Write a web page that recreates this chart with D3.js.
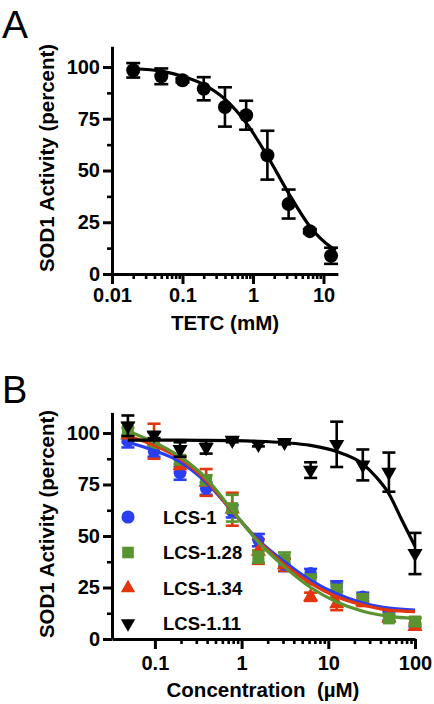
<!DOCTYPE html>
<html>
<head>
<meta charset="utf-8">
<script src="https://cdn.jsdelivr.net/npm/d3@7"></script>
<style>
  html, body { margin: 0; padding: 0; background: #fff; }
  svg { display: block; }
  text { font-family: "Liberation Sans", Arial, Helvetica, sans-serif; }
</style>
</head>
<body>
<div id="chart"></div>
<script>
// ---------- Panel A data (TETC) ----------
const tetcConc = [0.02, 0.05, 0.1, 0.2, 0.4, 0.8, 1.6, 3.2, 6.4, 12.8];
const tetcMean = [98.4, 95.5, 93.6, 89.5, 80.7, 76.7, 57.4, 33.8, 20.7, 8.8];
const tetcErr  = [3.5, 3.8, 1.0, 5.6, 9.5, 7.0, 11.8, 7.0, 1.0, 3.9];
const tetcFitConc = [0.017, 0.02, 0.05, 0.1, 0.2, 0.4, 0.8, 1.6, 3.2, 6.4, 12.8, 15];
const tetcFitVal  = [99.3, 99.2, 98, 95.5, 91.5, 84.5, 73, 57, 39, 23, 13, 11.5];

const xTicksA = [0.01, 0.1, 1, 10];
const xTickLabelsA = ["0.01", "0.1", "1", "10"];
const yTicks = [0, 25, 50, 75, 100];
const yMinorTicks = [12.5, 37.5, 62.5, 87.5];

// ---------- Panel B data (LCS compounds) ----------
const lcsConc = [0.0488, 0.0977, 0.195, 0.39, 0.78, 1.5625, 3.125, 6.25, 12.5, 25, 50, 100];
const seriesNames = ["LCS-1", "LCS-1.28", "LCS-1.34", "LCS-1.11"];
const lcs1Mean   = [96, 91, 80.5, 73, 62, 48, 36, 32, 25.5, 20.5, 11, 8];
const lcs1Err    = [3, 2.5, 3.2, 3, 3, 3, 3, 2, 2.5, 2, 2, 2];
const lcs128Mean = [101, 95, 87, 77, 63.5, 40, 38.5, 29, 24, 19.5, 10, 8.5];
const lcs128Err  = [4, 2, 2, 2.5, 6.5, 3, 3.5, 2, 3, 2, 1.5, 2];
const lcs134Mean = [99, 96, 84, 76, 63, 42.5, 36, 20.5, 17, 18, 10, 6];
const lcs134Err  = [3.5, 8.5, 3, 6.5, 8, 6, 3, 2, 3, 2, 1.5, 1.5];
const lcs111Mean = [103.5, 99, 92, 93, 96.5, 94.5, 95.5, 82, 94.5, 84.5, 81, 41.5];
const lcs111Err  = [5, 1.5, 3.5, 3, 1, 1, 1, 3.8, 11, 7.5, 9.5, 10];

const lcs1Fit   = [95.5, 91.5, 86, 76, 62, 48, 37.5, 28.5, 22, 17.5, 15, 14];
const lcs128Fit = [101, 95.5, 88.5, 78, 62.5, 47, 35, 25, 18, 13.5, 11, 10];
const lcs134Fit = [98.5, 94, 87.5, 77, 62, 47.5, 36, 27, 20.5, 16.5, 14, 13.3];
const lcs111FitConc = [0.0488, 0.0977, 0.195, 0.39, 0.78, 1.5625, 3.125, 6.25, 12.5, 25, 35, 50, 70, 100];
const lcs111Fit     = [96.5, 96.5, 96.5, 96.4, 96.3, 96, 95.3, 94, 91, 85, 79, 70.5, 58, 45];

const xTicksB = [0.1, 1, 10, 100];
const xTickLabelsB = ["0.1", "1", "10", "100"];

// ---------- Drawing ----------
const W = 434, H = 704;
const svg = d3.select("#chart").append("svg").attr("width", W).attr("height", H);

const colors = { blue: "#2a3ef2", green: "#5a9430", red: "#e2360f", black: "#000" };

function minorLog(lo, hi) {
  const out = [];
  for (let e = Math.floor(Math.log10(lo)); e <= Math.ceil(Math.log10(hi)); e++) {
    for (let m = 2; m <= 9; m++) {
      const v = m * Math.pow(10, e);
      if (v > lo * 1.0001 && v < hi * 0.9999) out.push(v);
    }
  }
  return out;
}

function drawAxes(g, x, y, xTicks, xLabels, minorLo, labelPad, title, titleY, yTitleCY) {
  const x0 = y.range()[0];
  const yAx = g.append("g").attr("transform", `translate(${x.range()[0]},0)`)
    .call(d3.axisLeft(y).tickValues(yTicks).tickSize(9).tickSizeOuter(0).tickPadding(3));
  const yMin = g.append("g").attr("transform", `translate(${x.range()[0]},0)`)
    .call(d3.axisLeft(y).tickValues(yMinorTicks).tickSize(5).tickSizeOuter(0).tickFormat(""));
  yMin.select(".domain").remove();
  const xAx = g.append("g").attr("transform", `translate(0,${x0})`)
    .call(d3.axisBottom(x).tickValues(xTicks).tickSize(10).tickSizeOuter(0).tickPadding(labelPad)
      .tickFormat((d, i) => xLabels[i]));
  const xMin = g.append("g").attr("transform", `translate(0,${x0})`)
    .call(d3.axisBottom(x).tickValues(minorLog(minorLo, x.domain()[1])).tickSize(5).tickSizeOuter(0).tickFormat(""));
  xMin.select(".domain").remove();

  [yAx, xAx].forEach(a => {
    a.select(".domain").attr("stroke", "#000").attr("stroke-width", 3);
    a.selectAll(".tick line").attr("stroke", "#000").attr("stroke-width", 3);
    a.selectAll(".tick text").attr("fill", "#000").style("font-size", "20px").style("font-weight", "bold");
  });
  [yMin, xMin].forEach(a => a.selectAll(".tick line").attr("stroke", "#000").attr("stroke-width", 2.6));

  g.append("text").attr("x", title.x).attr("y", titleY).attr("text-anchor", "middle")
    .style("font-size", "20.5px").style("font-weight", "bold").style("white-space", "pre")
    .attr("xml:space", "preserve").text(title.text);
  g.append("text").attr("transform", `translate(54,${yTitleCY}) rotate(-90)`)
    .attr("text-anchor", "middle").style("font-size", "20.5px").style("font-weight", "bold")
    .text("SOD1 Activity (percent)");
}

function errorBars(g, x, y, xs, means, errs, color, capW) {
  const eg = g.append("g").attr("stroke", color).attr("stroke-width", 2.6).attr("fill", "none");
  xs.forEach((c, i) => {
    const px = x(c), top = y(means[i] + errs[i]), bot = y(means[i] - errs[i]);
    eg.append("line").attr("x1", px).attr("x2", px).attr("y1", top).attr("y2", bot);
    eg.append("line").attr("x1", px - capW / 2).attr("x2", px + capW / 2).attr("y1", top).attr("y2", top);
    eg.append("line").attr("x1", px - capW / 2).attr("x2", px + capW / 2).attr("y1", bot).attr("y2", bot);
  });
}

function fitLine(g, x, y, xs, vals, color) {
  const line = d3.line().x(d => x(d[0])).y(d => y(d[1])).curve(d3.curveMonotoneX);
  g.append("path").datum(xs.map((c, i) => [c, vals[i]]))
    .attr("d", line).attr("fill", "none").attr("stroke", color).attr("stroke-width", 3.2)
    .attr("stroke-linejoin", "round");
}

function markers(g, x, y, xs, vals, type, size, color, rot) {
  const sym = d3.symbol().type(type).size(size);
  g.append("g").selectAll("path").data(xs.map((c, i) => [c, vals[i]])).join("path")
    .attr("d", sym)
    .attr("transform", d => `translate(${x(d[0])},${y(d[1])})${rot ? " rotate(180)" : ""}`)
    .attr("fill", color);
}

// ----- Panel A -----
const xA = d3.scaleLog().domain([0.01, 16]).range([112, 112 + Math.log10(1600) * 70.5]);
const yA = d3.scaleLinear().domain([0, 110]).range([274, 274 - 110 * 2.07]);
const gA = svg.append("g");
gA.append("text").attr("x", 2).attr("y", 38).style("font-size", "39px").text("A");
drawAxes(gA, xA, yA, xTicksA, xTickLabelsA, 0.01, 4, { text: "TETC (mM)", x: 225 }, 330, 158);
fitLine(gA, xA, yA, tetcFitConc, tetcFitVal, "#000");
errorBars(gA, xA, yA, tetcConc, tetcMean, tetcErr, "#000", 14);
markers(gA, xA, yA, tetcConc, tetcMean, d3.symbolCircle, Math.PI * 7 * 7, "#000", false);

// ----- Panel B -----
const xB = d3.scaleLog().domain([0.032, 100]).range([112, 415]);
const yB = d3.scaleLinear().domain([0, 110]).range([639, 639 - 110 * 2.06]);
const gB = svg.append("g");
gB.append("text").attr("x", 2).attr("y", 403).style("font-size", "38px").text("B");
drawAxes(gB, xB, yB, xTicksB, xTickLabelsB, 0.1, 7, { text: "Concentration  (µM)", x: 263 }, 697, 524);

const seriesB = [
  { mean: lcs1Mean, err: lcs1Err, fit: lcs1Fit, color: colors.blue, type: d3.symbolCircle, size: 120, rot: false },
  { mean: lcs134Mean, err: lcs134Err, fit: lcs134Fit, color: colors.red, type: d3.symbolTriangle, size: 100, rot: false },
  { mean: lcs128Mean, err: lcs128Err, fit: lcs128Fit, color: colors.green, type: d3.symbolSquare, size: 144, rot: false }
];
seriesB.forEach(s => errorBars(gB, xB, yB, lcsConc, s.mean, s.err, s.color, 13));
seriesB.forEach(s => markers(gB, xB, yB, lcsConc, s.mean, s.type, s.size, s.color, s.rot));
seriesB.forEach(s => fitLine(gB, xB, yB, lcsConc, s.fit, s.color));
fitLine(gB, xB, yB, lcs111FitConc, lcs111Fit, "#000");
errorBars(gB, xB, yB, lcsConc, lcs111Mean, lcs111Err, "#000", 13);
markers(gB, xB, yB, lcsConc, lcs111Mean, d3.symbolTriangle, 100, "#000", true);

// Legend
const legendItems = [
  { name: seriesNames[0], color: colors.blue, type: d3.symbolCircle, size: 135, rot: false },
  { name: seriesNames[1], color: colors.green, type: d3.symbolSquare, size: 135, rot: false },
  { name: seriesNames[2], color: colors.red, type: d3.symbolTriangle, size: 90, rot: false },
  { name: seriesNames[3], color: "#000", type: d3.symbolTriangle, size: 90, rot: true }
];
const lg = gB.append("g");
legendItems.forEach((it, i) => {
  const cy = 517 + i * 35.5;
  lg.append("path").attr("d", d3.symbol().type(it.type).size(it.size))
    .attr("transform", `translate(128,${cy})${it.rot ? " rotate(180)" : ""}`).attr("fill", it.color);
  lg.append("text").attr("x", 163).attr("y", cy).attr("dy", "0.36em")
    .style("font-size", "18.5px").style("font-weight", "bold").text(it.name);
});
</script>
</body>
</html>
